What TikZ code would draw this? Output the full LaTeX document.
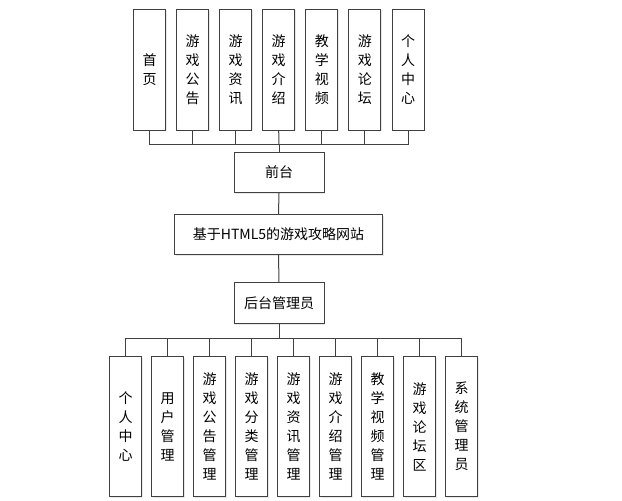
\documentclass[tikz,border=0pt]{standalone}
\usepackage{fontspec}
\usepackage{xcolor}
\usepackage{tikz}
\usetikzlibrary{positioning,shadows}
\newfontfamily\cjk{Noto Sans CJK SC}

\begin{document}
\begin{tikzpicture}[x=1pt, y={(0pt,-1pt)},
  every node/.style={font=\cjk\fontsize{14}{19}\selectfont},
  fbox/.style={draw=black!75, line width=1pt, fill=white, inner sep=0pt,
               align=center,
               drop shadow={opacity=0.18, shadow xshift=1.2pt, shadow yshift=-1.2pt}},
  colbox/.style={fbox, minimum width=32pt, minimum height=121pt},
  lowbox/.style={fbox, minimum width=32.5pt, minimum height=140pt},
  wbox/.style={fbox, minimum width=90pt, minimum height=40.6pt},
  link/.style={draw=black!75, line width=1pt}]

  \useasboundingbox (0,0) rectangle (622,501);

  % front-end modules
  \node[colbox] (t1) at (149.5, 69.7) {首\\页};
  \node[colbox] (t2) at (192.6, 69.7) {游\\戏\\公\\告};
  \node[colbox] (t3) at (235.7, 69.7) {游\\戏\\资\\讯};
  \node[colbox] (t4) at (278.7, 69.7) {游\\戏\\介\\绍};
  \node[colbox] (t5) at (321.8, 69.7) {教\\学\\视\\频};
  \node[colbox] (t6) at (364.9, 69.7) {游\\戏\\论\\坛};
  \node[colbox] (t7) at (408.0, 69.7) {个\\人\\中\\心};

  % centre column
  \node[wbox] (qt) at (279, 172.3) {前台};
  \node[fbox, minimum width=208.4pt, minimum height=40pt] (site) at (278.5, 234.3)
    {基于HTML5的游戏攻略网站};
  \node[wbox] (ht) at (279, 303) {后台管理员};
  \coordinate (tbus) at (279, 144.3);
  \coordinate (bbus) at (279, 338.3);

  % back-end modules
  \node[lowbox] (b1) at (125.7, 426.7) {个\\人\\中\\心};
  \node[lowbox] (b2) at (167.7, 426.7) {用\\户\\管\\理};
  \node[lowbox] (b3) at (209.7, 426.7) {游\\戏\\公\\告\\管\\理};
  \node[lowbox] (b4) at (251.7, 426.7) {游\\戏\\分\\类\\管\\理};
  \node[lowbox] (b5) at (293.7, 426.7) {游\\戏\\资\\讯\\管\\理};
  \node[lowbox] (b6) at (335.7, 426.7) {游\\戏\\介\\绍\\管\\理};
  \node[lowbox] (b7) at (377.7, 426.7) {教\\学\\视\\频\\管\\理};
  \node[lowbox] (b8) at (419.7, 426.7) {游\\戏\\论\\坛\\区};
  \node[lowbox] (b9) at (461.7, 426.7) {系\\统\\管\\理\\员};

  % front-end links
  \draw[link] (t1.south) |- (tbus);
  \draw[link] (t2.south) |- (tbus);
  \draw[link] (t3.south) |- (tbus);
  \draw[link] (t4.south) -- (tbus);
  \draw[link] (t5.south) |- (tbus);
  \draw[link] (t6.south) |- (tbus);
  \draw[link] (t7.south) |- (tbus);
  \draw[link] (tbus) -- (qt.north);
  \draw[link] (qt.south) -- (site.north);
  \draw[link] (site.south) -- (ht.north);

  % back-end links
  \draw[link] (ht.south) -- (bbus);
  \draw[link] (bbus) -| (b1.north);
  \draw[link] (bbus) -| (b2.north);
  \draw[link] (bbus) -| (b3.north);
  \draw[link] (bbus) -| (b4.north);
  \draw[link] (bbus) -| (b5.north);
  \draw[link] (bbus) -| (b6.north);
  \draw[link] (bbus) -| (b7.north);
  \draw[link] (bbus) -| (b8.north);
  \draw[link] (bbus) -| (b9.north);
\end{tikzpicture}
\end{document}
